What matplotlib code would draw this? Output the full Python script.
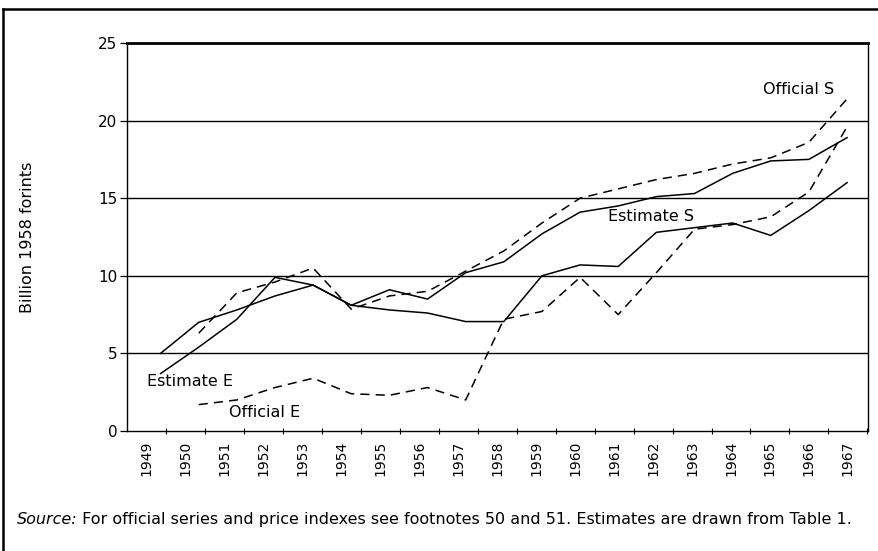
import numpy as np
import matplotlib
matplotlib.use('Agg')
import matplotlib.pyplot as plt
from matplotlib.lines import Line2D

plt.rcParams['font.family'] = ['DejaVu Sans']

years = list(range(1949, 1968))
years_official = list(range(1950, 1968))

estimate_s = [5.0, 7.0, 7.8, 8.7, 9.4, 8.1, 9.1, 8.5, 10.2, 10.9,
              12.7, 14.1, 14.5, 15.1, 15.3, 16.6, 17.4, 17.5, 18.9]
estimate_e = [3.7, 5.4, 7.2, 9.9, 9.4, 8.1, 7.8, 7.6, 7.05, 7.05,
              10.0, 10.7, 10.6, 12.8, 13.1, 13.4, 12.6, 14.2, 16.0]
official_s = [6.3, 8.9, 9.6, 10.5, 7.85, 8.7, 9.0, 10.3, 11.6,
              13.4, 15.0, 15.6, 16.2, 16.6, 17.2, 17.6, 18.6, 21.4]
official_e = [1.7, 2.0, 2.8, 3.4, 2.4, 2.3, 2.8, 2.0, 7.2,
              7.7, 9.9, 7.5, 10.2, 13.0, 13.3, 13.8, 15.4, 19.6]

series_labels = ['Estimate E', 'Official E', 'Estimate S', 'Official S']

fig = plt.figure(figsize=(8.79, 5.51), dpi=100)
ax = fig.add_axes([0.1445, 0.2178, 0.9875 - 0.1445, 0.922 - 0.2178])

# horizontal rules
for v in [5, 10, 15, 20]:
    ax.axhline(v, color='black', lw=1.0, zorder=1)

ax.plot(years, estimate_s, color='black', lw=1.1, zorder=3)
ax.plot(years, estimate_e, color='black', lw=1.1, zorder=3)
ax.plot(years_official, official_s, color='black', lw=1.1, ls=(0, (6, 4)), zorder=3)
ax.plot(years_official, official_e, color='black', lw=1.1, ls=(0, (6, 4)), zorder=3)

ax.set_xlim(1948.12, 1967.55)
ax.set_ylim(0, 25)

# year labels sit a bit left of the data points in the original
label_pos = np.linspace(1948.64, 1967.02, len(years))
step = label_pos[1] - label_pos[0]
ax.set_xticks(label_pos + step / 2)
ax.set_xticklabels([])
ax.set_xticks(label_pos, minor=True)
ax.set_xticklabels([str(y) for y in years], minor=True, rotation=90, fontsize=10)
ax.tick_params(axis='x', which='major', direction='inout', length=5, width=0.8)
ax.tick_params(axis='x', which='minor', length=0, pad=7)

ax.set_yticks([0, 5, 10, 15, 20, 25])
ax.tick_params(axis='y', direction='out', length=5, width=0.9, labelsize=11, pad=2)

for side in ['left', 'right', 'bottom']:
    ax.spines[side].set_linewidth(1.0)
ax.spines['top'].set_linewidth(2.0)

# series labels on the chart
ax.text(1948.64, 3.16, series_labels[0], fontsize=11.5, ha='left', va='center')
ax.text(1950.79, 1.22, series_labels[1], fontsize=11.5, ha='left', va='center')
ax.text(1960.73, 13.8, series_labels[2], fontsize=11.5, ha='left', va='center')
ax.text(1964.79, 22.0, series_labels[3], fontsize=11.5, ha='left', va='center')

fig.text(0.031, (0.2178 + 0.922) / 2, 'Billion 1958 forints', rotation=90,
         ha='center', va='center', fontsize=11.5)

src = fig.text(0.019, 0.058, 'Source:', style='italic', fontsize=11.5,
               ha='left', va='center')
fig.add_artist(plt.Annotation(
    ' For official series and price indexes see footnotes 50 and 51. '
    'Estimates are drawn from Table 1.',
    xy=(1, 0.5), xycoords=src, ha='left', va='center', fontsize=11.5))

# page frame: top and left rules
fig.add_artist(Line2D([0.0035, 1.0], [0.9837, 0.9837], color='black', lw=1.8,
                      transform=fig.transFigure))
fig.add_artist(Line2D([0.0035, 0.0035], [0.0, 0.9837], color='black', lw=1.8,
                      transform=fig.transFigure))

fig.savefig('out.png', dpi=100)
